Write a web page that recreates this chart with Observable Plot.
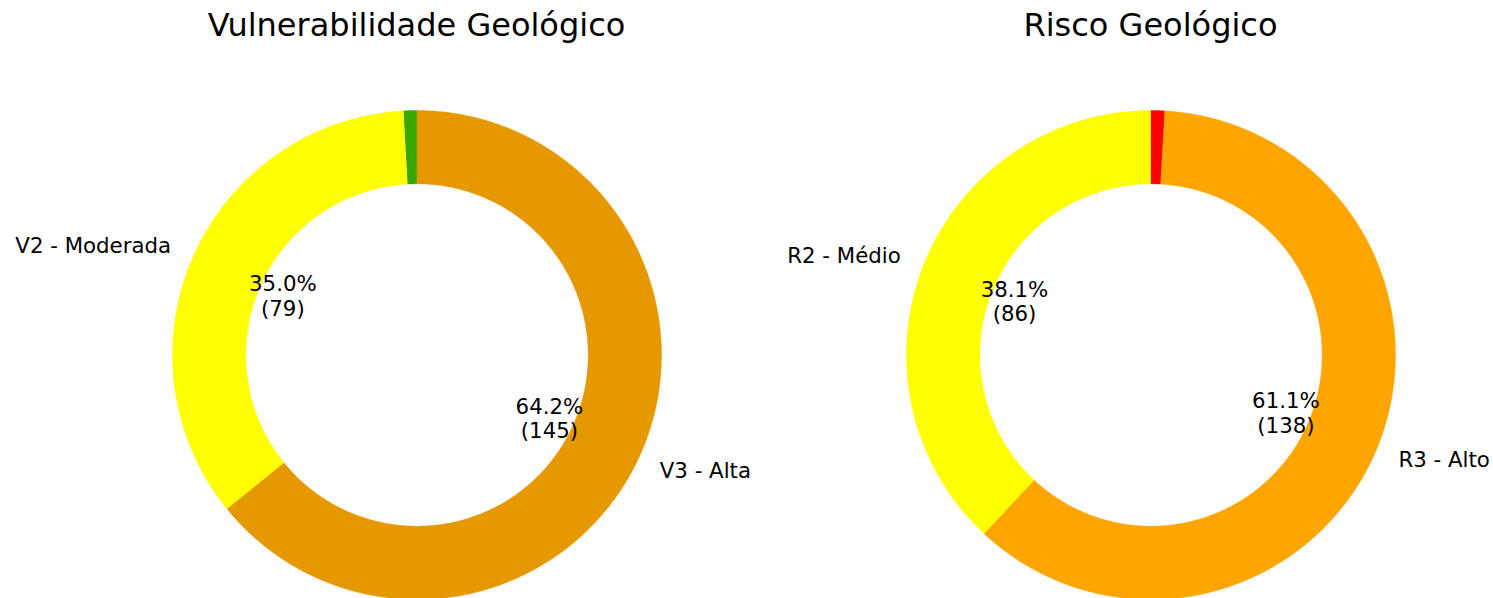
<!DOCTYPE html>
<html>
<head>
<meta charset="utf-8">
<script src="https://cdn.jsdelivr.net/npm/d3@7"></script>
<script src="https://cdn.jsdelivr.net/npm/@observablehq/plot@0.6"></script>
<style>
  html, body { margin: 0; padding: 0; background: #fff; overflow: hidden; }
  #wrap { position: relative; width: 1493px; height: 598px; font-family: "DejaVu Sans", sans-serif; }
  #titles { position: relative; height: 50px; }
  .title { position: absolute; top: 5px; font-size: 32px; line-height: 40px; color: #000; white-space: nowrap; transform: translateX(-50%); }
  #chart svg { display: block; overflow: visible; }
</style>
</head>
<body>
<div id="wrap">
  <div id="titles"></div>
  <div id="chart"></div>
</div>
<script>
// ---- data (in drawing order, counter-clockwise from 12 o'clock) ----
const titles = ["Vulnerabilidade Geológico", "Risco Geológico"];
const vulnCategories = ["V1 - Baixa", "V2 - Moderada", "V3 - Alta"];
const vulnValues = [2, 79, 145];
const vulnColors = ["#38A800", "#FFFF00", "#E69800"];
const riskCategories = ["R2 - Médio", "R3 - Alto", "R4 - Muito Alto"];
const riskValues = [86, 138, 2];
const riskColors = ["#FFFF00", "#FFA500", "#FF0000"];

// ---- layout ----
const W = 1493, H = 548;
const R = 244.5;            // outer radius in px
const centersPx = [416.5, 1150.5];
const cyPx = 304.5;
const innerRatio = 0.7, pctDist = 0.6, labelDist = 1.1;
const hideBelowPct = 2;

const charts = [
  {cats: vulnCategories, vals: vulnValues, cols: vulnColors},
  {cats: riskCategories, vals: riskValues, cols: riskColors}
];

const polys = [], pcts = [], labels = [];
charts.forEach((c, ci) => {
  const ox = (centersPx[ci] - centersPx[0]) / R;
  const total = d3.sum(c.vals);
  let a = 90;
  c.vals.forEach((v, i) => {
    const span = v / total * 360;
    const a0 = a, a1 = a + span;
    a = a1;
    const key = ci + "-" + i;
    const n = Math.max(2, Math.ceil(span / 0.5));
    for (let k = 0; k <= n; k++) {
      const t = (a0 + (a1 - a0) * k / n) * Math.PI / 180;
      polys.push({key, color: c.cols[i], x: ox + Math.cos(t), y: Math.sin(t)});
    }
    for (let k = n; k >= 0; k--) {
      const t = (a0 + (a1 - a0) * k / n) * Math.PI / 180;
      polys.push({key, color: c.cols[i], x: ox + innerRatio * Math.cos(t), y: innerRatio * Math.sin(t)});
    }
    const pct = v / total * 100;
    if (pct < hideBelowPct) return;
    const m = (a0 + a1) / 2 * Math.PI / 180;
    pcts.push({x: ox + pctDist * Math.cos(m), y: pctDist * Math.sin(m), text: pct.toFixed(1) + "%\n(" + v + ")"});
    labels.push({x: ox + labelDist * Math.cos(m), y: labelDist * Math.sin(m), side: Math.cos(m) < 0 ? "left" : "right", text: c.cats[i]});
  });
});

const titleBox = document.getElementById("titles");
titles.forEach((t, i) => {
  const d = document.createElement("div");
  d.className = "title";
  d.style.left = centersPx[i] + "px";
  d.textContent = t;
  titleBox.appendChild(d);
});

const plot = Plot.plot({
  width: W, height: H,
  margin: 0,
  x: {domain: [-centersPx[0] / R, (W - centersPx[0]) / R], range: [0, W], axis: null},
  y: {domain: [-(H - cyPx) / R, cyPx / R], range: [H, 0], axis: null},
  color: {type: "identity"},
  style: {fontFamily: "DejaVu Sans", background: "transparent"},
  marks: [
    Plot.line(polys, {x: "x", y: "y", z: "key", fill: "color", stroke: "color", strokeWidth: 0.4, curve: "linear"}),
    Plot.text(pcts, {x: "x", y: "y", text: "text", fontSize: 21.3, lineHeight: 1.15, fill: "#000"}),
    Plot.text(labels.filter(d => d.side === "left"), {x: "x", y: "y", text: "text", fontSize: 21.3, textAnchor: "end", fill: "#000"}),
    Plot.text(labels.filter(d => d.side === "right"), {x: "x", y: "y", text: "text", fontSize: 21.3, textAnchor: "start", fill: "#000"})
  ]
});
document.getElementById("chart").appendChild(plot);
</script>
</body>
</html>
